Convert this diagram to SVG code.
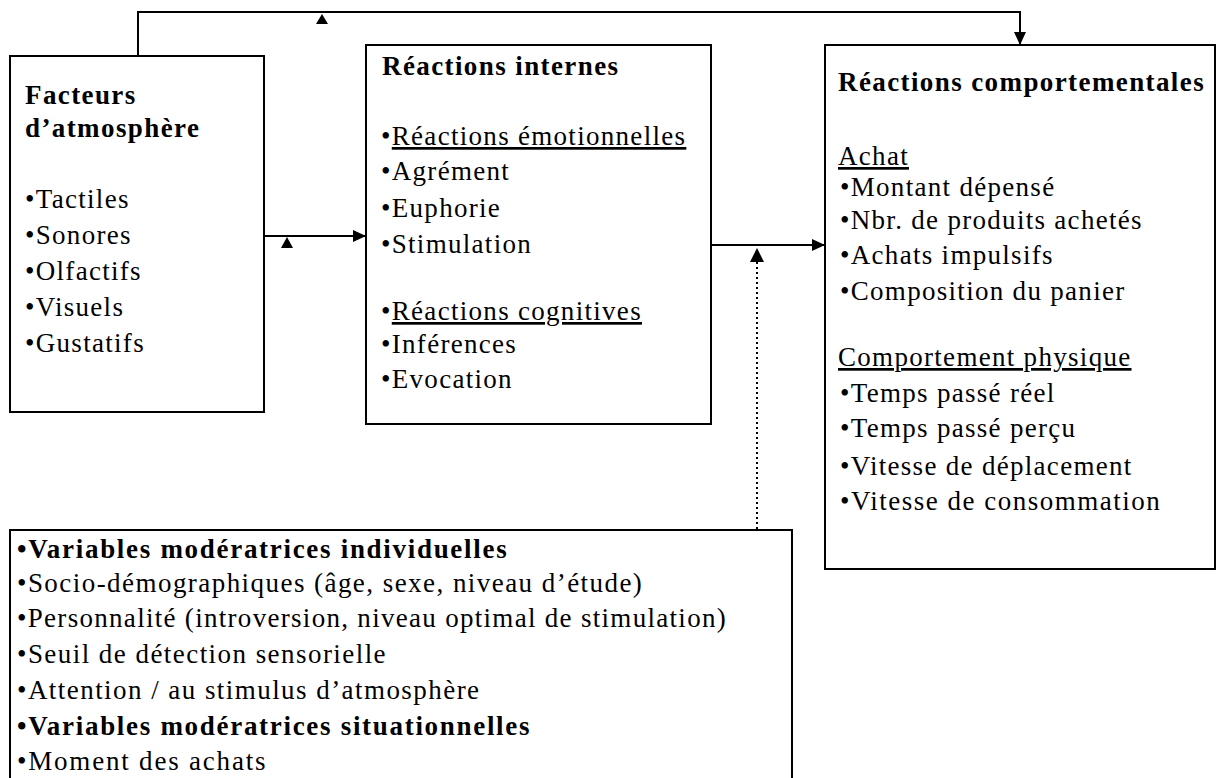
<svg xmlns="http://www.w3.org/2000/svg" width="1217" height="778" viewBox="0 0 1217 778">
<style>
.box{fill:#fff;stroke:#000;stroke-width:2}
text{font-family:'Liberation Serif','DejaVu Serif',serif;font-size:27px;fill:#000;letter-spacing:1.3px}
.b{font-weight:bold;letter-spacing:1.4px}
.bb{font-weight:bold;letter-spacing:1.7px}
.u{text-decoration:underline}
.ln{fill:none;stroke:#000;stroke-width:2}
.dot{fill:none;stroke:#000;stroke-width:2;stroke-dasharray:2 3}
.tri{fill:#000}
</style>
<defs>
<marker id="ah" markerUnits="userSpaceOnUse" markerWidth="14" markerHeight="12" refX="13" refY="6" orient="auto">
<path d="M0,0 L13,6 L0,12 Z" fill="#000"/>
</marker>
</defs>
<rect width="1217" height="778" fill="#fff"/>
<g id="connectors">
<polyline class="ln" points="138,56 138,12 1020,12 1020,45" marker-end="url(#ah)"/>
<polygon class="tri" points="322,14 316,24 328,24"/>
<line class="ln" x1="264" y1="236" x2="366" y2="236" marker-end="url(#ah)"/>
<polygon class="tri" points="287,237 281,248 293,248"/>
<line class="ln" x1="711" y1="245" x2="825" y2="245" marker-end="url(#ah)"/>
<line class="dot" x1="757" y1="262" x2="757" y2="530"/>
<polygon class="tri" points="757,248 750,262 764,262"/>
</g>
<g id="facteurs">
<rect class="box" x="10" y="56" width="254" height="356"/>
<text class="b" x="25" y="104">Facteurs</text>
<text class="b" x="25" y="137">d’atmosphère</text>
<text x="25" y="208">•Tactiles</text>
<text x="25" y="244">•Sonores</text>
<text x="25" y="280">•Olfactifs</text>
<text x="25" y="316">•Visuels</text>
<text x="25" y="352">•Gustatifs</text>
</g>
<g id="internes">
<rect class="box" x="366" y="45" width="345" height="379"/>
<text class="b" x="382" y="75">Réactions internes</text>
<text x="381" y="145">•<tspan class="u">Réactions émotionnelles</tspan></text>
<text x="381" y="180">•Agrément</text>
<text x="381" y="217">•Euphorie</text>
<text x="381" y="253">•Stimulation</text>
<text x="381" y="320">•<tspan class="u">Réactions cognitives</tspan></text>
<text x="381" y="353">•Inférences</text>
<text x="381" y="388">•Evocation</text>
</g>
<g id="comportementales">
<rect class="box" x="825" y="45" width="390" height="524"/>
<text class="b" x="838" y="91">Réactions comportementales</text>
<text class="u" x="838" y="165">Achat</text>
<text x="840" y="196">•Montant dépensé</text>
<text x="840" y="229">•Nbr. de produits achetés</text>
<text x="840" y="264">•Achats impulsifs</text>
<text x="840" y="300">•Composition du panier</text>
<text class="u" x="838" y="366">Comportement physique</text>
<text x="840" y="402">•Temps passé réel</text>
<text x="840" y="437">•Temps passé perçu</text>
<text x="840" y="475">•Vitesse de déplacement</text>
<text x="840" y="510" style="letter-spacing:1.5px">•Vitesse de consommation</text>
</g>
<g id="moderatrices">
<rect class="box" x="10" y="530" width="782" height="280"/>
<text class="bb" x="17" y="558">•Variables modératrices individuelles</text>
<text x="17" y="592" style="letter-spacing:1.45px">•Socio-démographiques (âge, sexe, niveau d’étude)</text>
<text x="17" y="627">•Personnalité (introversion, niveau optimal de stimulation)</text>
<text x="17" y="663" style="letter-spacing:1.45px">•Seuil de détection sensorielle</text>
<text x="17" y="699" style="letter-spacing:1.45px">•Attention / au stimulus d’atmosphère</text>
<text class="bb" x="17" y="735">•Variables modératrices situationnelles</text>
<text x="17" y="770" style="letter-spacing:1.8px">•Moment des achats</text>
</g>
</svg>
